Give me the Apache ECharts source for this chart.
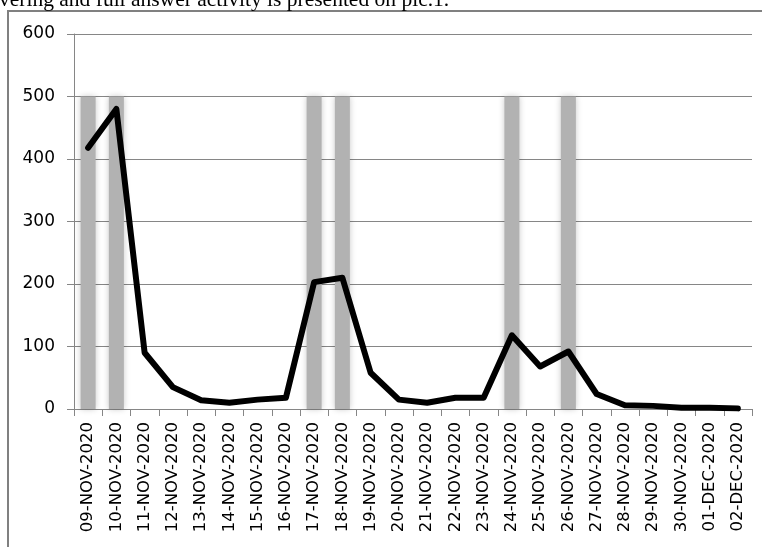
<!DOCTYPE html>
<html>
<head>
<meta charset="utf-8">
<script src="https://cdn.jsdelivr.net/npm/echarts@6/dist/echarts.min.js"></script>
<style>
html,body{margin:0;padding:0;background:#fff;}
#chart{width:762px;height:547px;}
</style>
</head>
<body>
<div id="chart"></div>
<script>
const categories = ["09-NOV-2020","10-NOV-2020","11-NOV-2020","12-NOV-2020","13-NOV-2020","14-NOV-2020","15-NOV-2020","16-NOV-2020","17-NOV-2020","18-NOV-2020","19-NOV-2020","20-NOV-2020","21-NOV-2020","22-NOV-2020","23-NOV-2020","24-NOV-2020","25-NOV-2020","26-NOV-2020","27-NOV-2020","28-NOV-2020","29-NOV-2020","30-NOV-2020","01-DEC-2020","02-DEC-2020"];
const highlightBars = [500,500,null,null,null,null,null,null,500,500,null,null,null,null,null,500,null,500,null,null,null,null,null,null];
const activity = [418,480,90,35,14,10,15,18,203,210,58,15,10,18,18,118,68,92,24,6,5,2,2,1];
const yTicks = {min:0, max:600, interval:100};
const caption = "vering and full answer activity is presented on pic.1.";

const chart = echarts.init(document.getElementById('chart'), null, {renderer:'canvas'});
chart.setOption({
  animation:false,
  backgroundColor:'#fff',
  grid:{left:74, right:10, top:34, bottom:138, containLabel:false},
  graphic:[
    {type:'rect', shape:{x:8, y:11, width:800, height:600}, style:{fill:'none', stroke:'#808080', lineWidth:2}, z:-1},
    {type:'text', x:-1, y:-11, style:{text:caption, font:'21.5px "Liberation Serif"', fill:'#000'}}
  ],
  xAxis:{
    type:'category', data:categories, boundaryGap:true,
    axisLine:{lineStyle:{color:'#868686', width:1}},
    axisTick:{show:true, length:7, alignWithLabel:false, lineStyle:{color:'#868686'}},
    axisLabel:{rotate:90, margin:13, color:'#000', fontFamily:'DejaVu Sans', fontSize:16.5, interval:0}
  },
  yAxis:{
    type:'value', min:yTicks.min, max:yTicks.max, interval:yTicks.interval,
    axisLine:{show:true, lineStyle:{color:'#868686', width:1}},
    axisTick:{show:true, length:7, lineStyle:{color:'#868686'}},
    splitLine:{lineStyle:{color:'#868686', width:1}},
    axisLabel:{margin:19, color:'#000', fontFamily:'DejaVu Sans', fontSize:17}
  },
  series:[
    {type:'bar', data:highlightBars, barWidth:15, itemStyle:{color:'#b2b2b2', shadowBlur:6, shadowColor:'rgba(0,0,0,0.22)'}, z:2},
    {type:'line', data:activity, symbol:'none', lineStyle:{color:'#000', width:6, cap:'round', join:'round'}, z:3}
  ]
});
</script>
</body>
</html>
